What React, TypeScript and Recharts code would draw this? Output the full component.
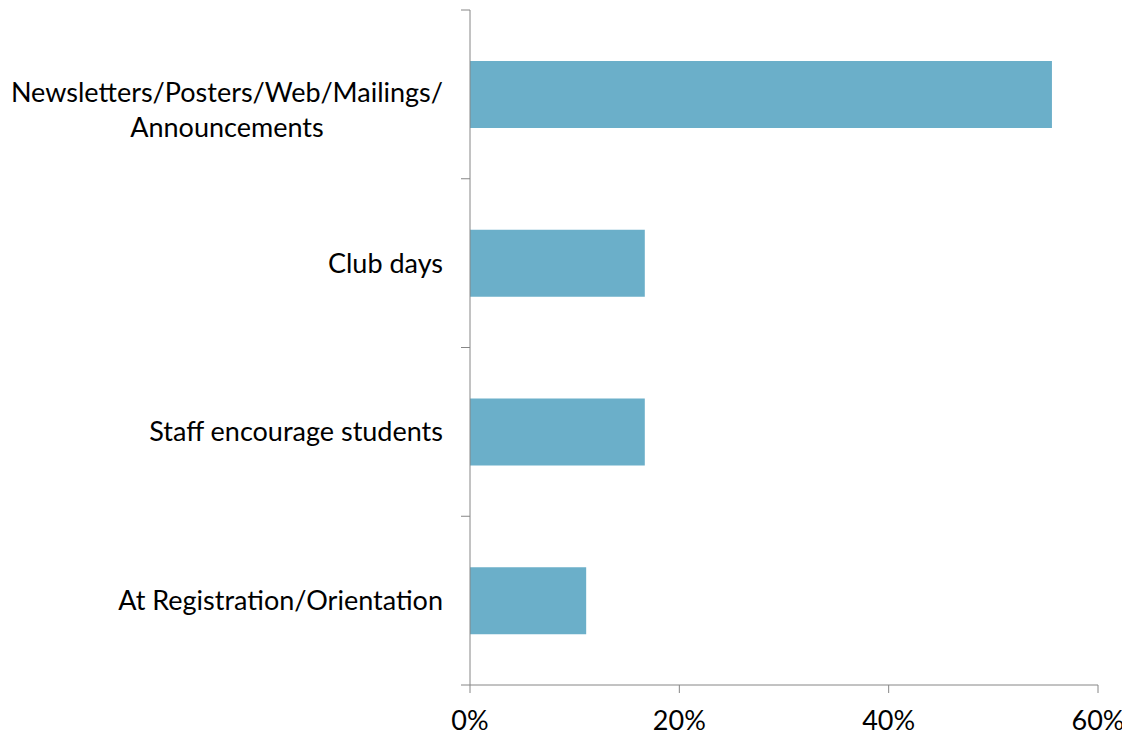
import { Bar, BarChart, XAxis, YAxis } from "recharts";

const categories = [
  "Newsletters/Posters/Web/Mailings/\nAnnouncements",
  "Club days",
  "Staff encourage students",
  "At Registration/Orientation",
];
const shares = [55.6, 16.7, 16.7, 11.1];
const xTicks = [0, 20, 40, 60];

const data = categories.map((name, i) => ({ name, value: shares[i] }));

const W = 1122;
const H = 728;
const TOP = 2;
const BOTTOM = 8;
const X_AXIS_H = 43;
const Y_AXIS_W = 462;
const FONT = "Lato, 'Open Sans', sans-serif";
const FONT_SIZE = 27;
const AXIS = "#868686";
const TICK_SIZE = 9;
const TICK_MARGIN = 18;

let ctx: CanvasRenderingContext2D | null = null;
function textWidth(s: string) {
  if (!ctx) ctx = document.createElement("canvas").getContext("2d");
  if (!ctx) return s.length * FONT_SIZE * 0.5;
  ctx.font = `${FONT_SIZE}px Lato`;
  return ctx.measureText(s).width;
}

// ticks sit between categories, like the source chart
// eslint-disable-next-line @typescript-eslint/no-explicit-any
function CategoryTick({ x, y, payload, index }: any) {
  const band = (H - TOP - BOTTOM - X_AXIS_H) / categories.length;
  const axisX = x + TICK_MARGIN + TICK_SIZE;
  const lines = String(payload.value).split("\n");
  const widest = Math.max(...lines.map(textWidth));
  const cx = x - widest / 2;
  return (
    <g>
      <line x1={axisX - TICK_SIZE} x2={axisX} y1={y - band / 2} y2={y - band / 2} stroke={AXIS} />
      {index === categories.length - 1 && (
        <line x1={axisX - TICK_SIZE} x2={axisX} y1={y + band / 2} y2={y + band / 2} stroke={AXIS} />
      )}
      {lines.map((l, i) => (
        <text
          key={i}
          x={lines.length > 1 ? cx : x}
          y={y + i * 35 - (lines.length > 1 ? 2 : 0)}
          dy="0.35em"
          textAnchor={lines.length > 1 ? "middle" : "end"}
          fontFamily={FONT}
          fontSize={FONT_SIZE}
          fill="#000"
        >
          {l}
        </text>
      ))}
    </g>
  );
}

export default function App() {
  return (
    <BarChart
      width={W}
      height={H}
      data={data}
      layout="vertical"
      margin={{ top: TOP, right: 32, left: 0, bottom: BOTTOM }}
    >
      <XAxis
        type="number"
        domain={[0, 60]}
        ticks={xTicks}
        tickFormatter={(v: number) => `${v}%`}
        height={X_AXIS_H}
        stroke={AXIS}
        tickSize={8}
        tickMargin={18}
        tick={{ fontSize: FONT_SIZE, fontFamily: FONT, fill: "#000" }}
        interval={0}
      />
      <YAxis
        type="category"
        dataKey="name"
        width={Y_AXIS_W}
        stroke={AXIS}
        tickLine={false}
        tickSize={TICK_SIZE}
        tickMargin={TICK_MARGIN}
        tick={<CategoryTick />}
        interval={0}
      />
      <Bar dataKey="value" fill="#6BAFC9" barSize={67} isAnimationActive={false} />
    </BarChart>
  );
}
